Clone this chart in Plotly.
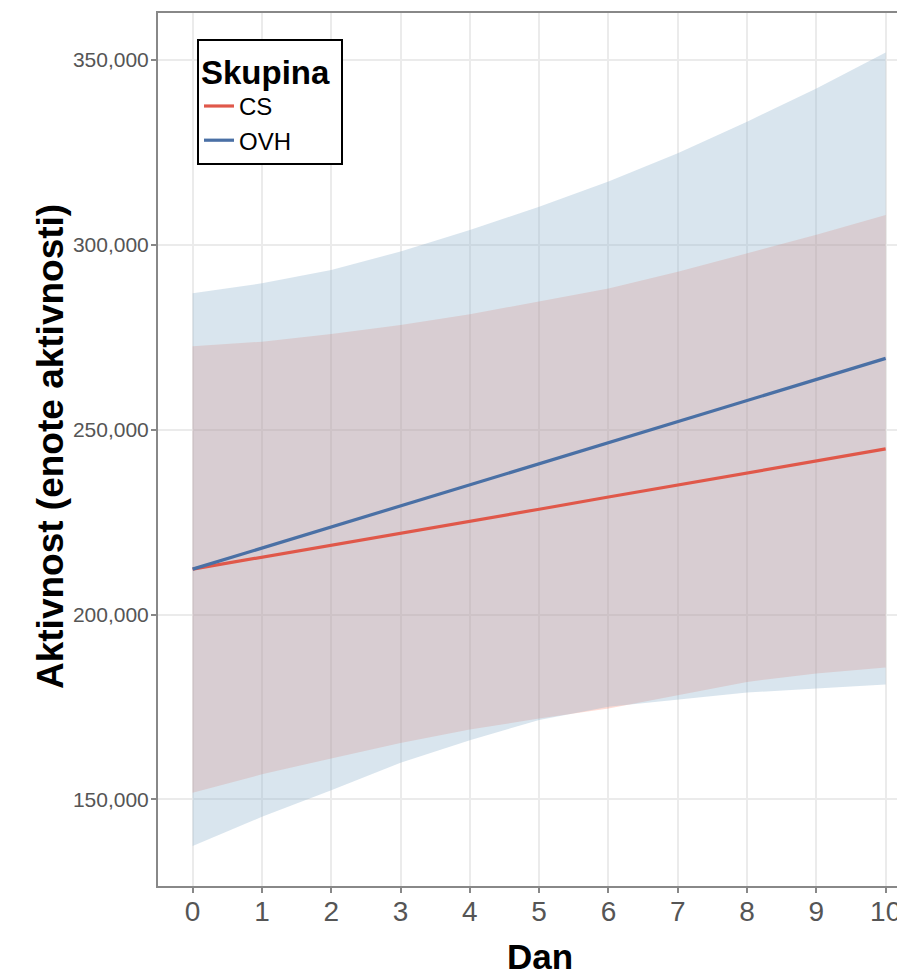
import plotly.graph_objects as go

# ---- data ----
dan = [0, 1, 2, 3, 4, 5, 6, 7, 8, 9, 10]

cs_fit = [212300, 215500, 218800, 222000, 225300, 228500, 231800, 235000, 238300, 241500, 244800]
cs_upper = [272600, 273800, 275900, 278300, 281200, 284600, 288200, 292700, 297700, 302700, 308100]
cs_lower = [151800, 156800, 161100, 165300, 168900, 171900, 174600, 178200, 181800, 184100, 185700]

ovh_fit = [212300, 218000, 223700, 229400, 235100, 240800, 246500, 252200, 257900, 263600, 269300]
ovh_upper = [286900, 289600, 293200, 298200, 304000, 310300, 317100, 324800, 333300, 342300, 352000]
ovh_lower = [137400, 145300, 152500, 159900, 166000, 171500, 175100, 177100, 178900, 180000, 181100]

y_ticks = [150000, 200000, 250000, 300000, 350000]
x_ticks = [0, 1, 2, 3, 4, 5, 6, 7, 8, 9, 10]

# ---- styling ----
FONT = "Liberation Sans"
CS_LINE = "#E0584A"
OVH_LINE = "#4A70A5"
CS_FILL = "rgba(250,99,71,0.23)"
OVH_FILL = "rgba(146,181,206,0.35)"

fig = go.Figure()

# CS ribbon
fig.add_trace(go.Scatter(x=dan, y=cs_upper, mode="lines", line=dict(width=0),
                         showlegend=False, hoverinfo="skip"))
fig.add_trace(go.Scatter(x=dan, y=cs_lower, mode="lines", line=dict(width=0),
                         fill="tonexty", fillcolor=CS_FILL, showlegend=False, hoverinfo="skip"))
# OVH ribbon
fig.add_trace(go.Scatter(x=dan, y=ovh_upper, mode="lines", line=dict(width=0),
                         showlegend=False, hoverinfo="skip"))
fig.add_trace(go.Scatter(x=dan, y=ovh_lower, mode="lines", line=dict(width=0),
                         fill="tonexty", fillcolor=OVH_FILL, showlegend=False, hoverinfo="skip"))
# fitted lines
fig.add_trace(go.Scatter(x=dan, y=cs_fit, mode="lines", name="CS",
                         line=dict(color=CS_LINE, width=3.2)))
fig.add_trace(go.Scatter(x=dan, y=ovh_fit, mode="lines", name="OVH",
                         line=dict(color=OVH_LINE, width=3.2)))

L, T, B = 158, 13, 89
W, H = 897, 975
plot_w = W - L
plot_h = H - T - B
px_per_unit = 69.3
x_right = -0.5 + plot_w / px_per_unit

fig.update_layout(
    width=W, height=H,
    margin=dict(l=L, r=0, t=T, b=B, pad=0),
    paper_bgcolor="white", plot_bgcolor="white",
    font=dict(family=FONT, color="#555555"),
    legend=dict(
        title=dict(text="<b>Skupina\u00a0</b>", font=dict(family=FONT, size=33, color="black")),
        font=dict(family=FONT, size=24, color="black"),
        traceorder="normal",
        x=(197 - L) / plot_w, y=(H - B - 39) / plot_h,
        xanchor="left", yanchor="top",
        bordercolor="black", borderwidth=2, bgcolor="white",
        itemwidth=30, tracegroupgap=0,
    ),
    xaxis=dict(
        range=[-0.5, x_right], tickvals=x_ticks, ticktext=[str(v) for v in x_ticks],
        showgrid=True, gridcolor="#EBEBEB", gridwidth=1.5,
        showline=True, linecolor="#888888", linewidth=2, mirror=True,
        ticks="outside", ticklen=5, tickcolor="#888888", tickwidth=2,
        tickfont=dict(family=FONT, size=28, color="#555555"),
        ticklabeloverflow="allow", ticklabelstandoff=-6,
        zeroline=False, automargin=False,
    ),
    yaxis=dict(
        range=[126600, 362700], tickvals=y_ticks, tickformat=",d",
        showgrid=True, gridcolor="#EBEBEB", gridwidth=1.5,
        showline=True, linecolor="#888888", linewidth=2,
        ticks="outside", ticklen=5, tickcolor="#888888", tickwidth=2,
        tickfont=dict(family=FONT, size=21, color="#555555"),
        ticklabelstandoff=-2,
        zeroline=False, automargin=False,
    ),
    annotations=[
        dict(text="<b>Aktivnost (enote aktivnosti)</b>", textangle=-90,
             xref="paper", yref="paper", x=(50 - L) / plot_w, y=(H - B - 447) / plot_h,
             xanchor="center", yanchor="middle", showarrow=False,
             font=dict(family=FONT, size=37, color="black")),
        dict(text="<b>Dan</b>",
             xref="paper", yref="paper", x=(540 - L) / plot_w, y=(H - B - 957) / plot_h,
             xanchor="center", yanchor="middle", showarrow=False,
             font=dict(family=FONT, size=35, color="black")),
    ],
)

fig.write_html(
    "out.html",
    config={"displayModeBar": False},
    post_script="document.body.style.margin='0';document.body.style.overflow='hidden';",
)
